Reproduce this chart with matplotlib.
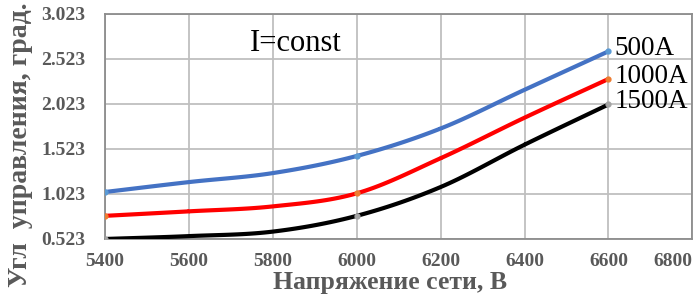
import numpy as np
import matplotlib
matplotlib.use("Agg")
import matplotlib.pyplot as plt

plt.rcParams['font.family'] = ['Liberation Serif', 'DejaVu Serif']

voltage = [5400, 5600, 5800, 6000, 6200, 6400, 6600]
angle_500 = [1.045, 1.155, 1.255, 1.445, 1.75, 2.18, 2.607]
angle_1000 = [0.78, 0.83, 0.885, 1.03, 1.42, 1.87, 2.30]
angle_1500 = [0.523, 0.555, 0.605, 0.78, 1.10, 1.57, 2.017]
labels = ['500A', '1000A', '1500A']
marker_idx = [0, 3, 6]

xticks = [5400, 5600, 5800, 6000, 6200, 6400, 6600, 6800]
yticks = [0.523, 1.023, 1.523, 2.023, 2.523, 3.023]


def smooth(x, y, n=20):
    # catmull-rom style curve through the points, like Excel "smoothed line"
    x = np.asarray(x, float)
    y = np.asarray(y, float)
    px = np.concatenate([[2 * x[0] - x[1]], x, [2 * x[-1] - x[-2]]])
    py = np.concatenate([[2 * y[0] - y[1]], y, [2 * y[-1] - y[-2]]])
    xs, ys = [], []
    t = np.linspace(0, 1, n)
    for i in range(1, len(px) - 2):
        for p, out in ((px, xs), (py, ys)):
            p0, p1, p2, p3 = p[i - 1], p[i], p[i + 1], p[i + 2]
            out.extend(0.5 * ((2 * p1) + (-p0 + p2) * t
                              + (2 * p0 - 5 * p1 + 4 * p2 - p3) * t ** 2
                              + (-p0 + 3 * p1 - 3 * p2 + p3) * t ** 3))
    return xs, ys


fig = plt.figure(figsize=(7, 2.96), dpi=100)
ax = fig.add_axes([0.15, 0.1926, 0.839, 0.7604])

series = [(angle_500, '#4472C4', '#5B9BD5'),
          (angle_1000, '#FF0000', '#ED7D31'),
          (angle_1500, '#000000', '#A5A5A5')]
for vals, col, mcol in series:
    sx, sy = smooth(voltage, vals)
    ax.plot(sx, sy, color=col, lw=3, solid_capstyle='round', zorder=3)
    ax.plot([voltage[i] for i in marker_idx], [vals[i] for i in marker_idx],
            'o', ms=3.5, color=mcol, zorder=4)

for vals, lab in zip([angle_500, angle_1000, angle_1500], labels):
    ax.text(6615, vals[-1] + 0.03, lab, fontsize=19.5, va='center', ha='left',
            color='black', clip_on=False)

ax.text(5855, 2.69, 'I=const', fontsize=22, ha='center', va='center')

ax.set_xlim(5400, 6800)
ax.set_ylim(0.523, 3.023)
ax.set_xticks(xticks)
ax.set_yticks(yticks)
ax.set_yticklabels(['%.3f' % v for v in yticks])
ax.grid(True, color='#BFBFBF', lw=1.3)
ax.set_axisbelow(True)
for s in ax.spines.values():
    s.set_color('#8C8C8C')
    s.set_linewidth(1.3)
ax.tick_params(colors='#595959', labelsize=14, length=0)
ax.tick_params(axis='x', pad=10)
ax.tick_params(axis='y', pad=14)
for lbl in ax.get_xticklabels() + ax.get_yticklabels():
    lbl.set_fontweight('bold')
ax.get_xticklabels()[-1].set_horizontalalignment('right')

fig.text(0.557, 0.045, 'Напряжение сети, В', fontsize=18.5, fontweight='bold',
         color='#595959', ha='center', va='center')
fig.text(0.029, 0.51, 'Угл  управления, град.', fontsize=20, fontweight='bold',
         color='#595959', ha='center', va='center', rotation=90)

fig.savefig('out.png', dpi=100)
